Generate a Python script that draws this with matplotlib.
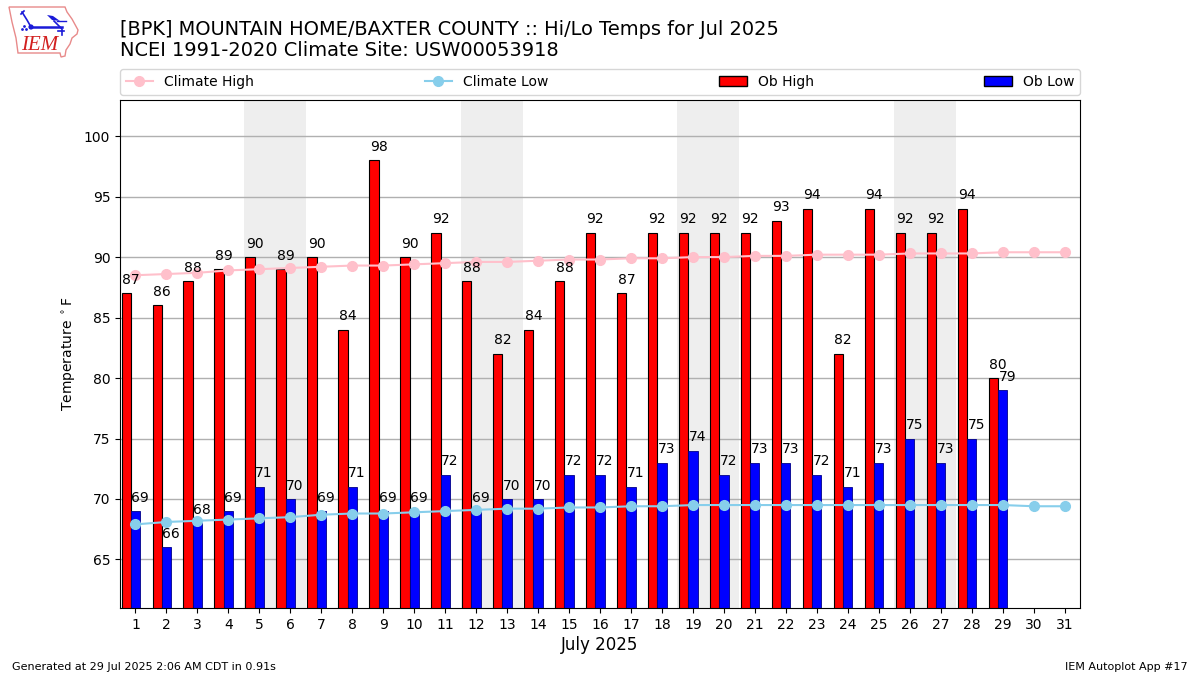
import matplotlib
matplotlib.use("Agg")
import matplotlib.pyplot as plt
from matplotlib.patches import Polygon, Circle, Patch

days = list(range(1, 32))
ob_high = [87, 86, 88, 89, 90, 89, 90, 84, 98, 90, 92, 88, 82, 84, 88, 92, 87, 92, 92, 92, 92, 93, 94, 82, 94, 92, 92, 94, 80]
ob_low = [69, 66, 68, 69, 71, 70, 69, 71, 69, 69, 72, 69, 70, 70, 72, 72, 71, 73, 74, 72, 73, 73, 72, 71, 73, 75, 73, 75, 79]
climate_high = [88.5, 88.6, 88.7, 88.9, 89.0, 89.1, 89.2, 89.3, 89.3, 89.4, 89.5, 89.6, 89.6, 89.7, 89.8, 89.8,
                89.9, 89.9, 90.0, 90.0, 90.1, 90.1, 90.2, 90.2, 90.2, 90.3, 90.3, 90.3, 90.4, 90.4, 90.4]
climate_low = [67.9, 68.1, 68.2, 68.3, 68.4, 68.5, 68.7, 68.8, 68.8, 68.9, 69.0, 69.1, 69.2, 69.2, 69.3, 69.3,
               69.4, 69.4, 69.5, 69.5, 69.5, 69.5, 69.5, 69.5, 69.5, 69.5, 69.5, 69.5, 69.5, 69.4, 69.4]
weekends = [5, 12, 19, 26]
y_ticks = list(range(65, 101, 5))

W = 0.3
fig = plt.figure(figsize=(12, 6.75), dpi=100)
ax = fig.add_axes([120 / 1200, 1 - 607.85 / 675, 960 / 1200, 508 / 675])

for d in weekends:
    ax.axvspan(d - 0.5, d + 1.5, color="#eeeeee", lw=0, zorder=0)
ax.yaxis.grid(True, color="#b0b0b0", lw=1, zorder=1)
ax.set_axisbelow(True)

hx = days[:len(ob_high)]
lx = days[:len(ob_low)]
ax.bar([x - 0.3 for x in hx], ob_high, width=W, color="red", edgecolor="k", lw=0.8, zorder=2)
ax.bar(lx, ob_low, width=W, color="blue", edgecolor="#000088", lw=0.6, zorder=2)
l1, = ax.plot(days, climate_high, color="pink", marker="o", ms=7, lw=1.5, zorder=3)
l2, = ax.plot(days, climate_low, color="skyblue", marker="o", ms=7, lw=1.5, zorder=3)

for x, v in zip(hx, ob_high):
    ax.text(x - W / 2, v + 0.53, str(v), ha="center", va="bottom", fontsize=10, zorder=4)
for x, v in zip(lx, ob_low):
    ax.text(x + W / 2, v + 0.53, str(v), ha="center", va="bottom", fontsize=10, zorder=4)

ax.set_xlim(0.5, 31.5)
ax.set_ylim(61, 103)
ax.set_xticks(days)
ax.set_yticks(y_ticks)
ax.set_xlabel("July 2025", fontsize=12, labelpad=3)
ax.set_ylabel(r"Temperature $^\circ$F", fontsize=10)

handles = [l1, l2, Patch(fc="red", ec="k"), Patch(fc="blue", ec="k")]
ax.legend(handles, ["Climate High", "Climate Low", "Ob High", "Ob Low"], ncol=4, mode="expand", loc="lower left",
          bbox_to_anchor=(0, 1.0105, 1, 0.05), borderaxespad=0, fontsize=10)

fig.text(120 / 1200, 1 - 35 / 675, "[BPK] MOUNTAIN HOME/BAXTER COUNTY :: Hi/Lo Temps for Jul 2025",
         fontsize=13.99, ha="left", va="baseline")
fig.text(120 / 1200, 1 - 56 / 675, "NCEI 1991-2020 Climate Site: USW00053918",
         fontsize=13.99, ha="left", va="baseline")
fig.text(12 / 1200, 1 - 670 / 675, "Generated at 29 Jul 2025 2:06 AM CDT in 0.91s", fontsize=8, ha="left", va="baseline")
fig.text(1188 / 1200, 1 - 670 / 675, "IEM Autoplot App #17", fontsize=8, ha="right", va="baseline")

# IEM logo, drawn in pixel coordinates of the figure
logo = fig.add_axes([0, 1 - 60 / 675, 85 / 1200, 60 / 675])
logo.set_xlim(0, 85)
logo.set_ylim(60, 0)
logo.axis("off")
logo.add_patch(Polygon([(9, 7), (65, 7), (67, 12), (72, 19), (78, 30), (77, 34), (72, 38), (70, 44), (66, 50),
                        (65, 56), (61, 57), (60, 53), (18, 53), (16, 38), (12, 22)],
                       closed=True, fc="white", ec="#e88a8a", lw=1))
blue = "#1a1ad8"
logo.plot([31, 62], [27, 27], color=blue, lw=1.8)
logo.plot([22, 27, 31], [12, 20, 27], color=blue, lw=1.2)
logo.plot([24, 21], [11, 14], color=blue, lw=1.2)
logo.plot([54, 62, 62], [21, 29, 35], color=blue, lw=1.2)
logo.plot([57, 66], [21, 21], color=blue, lw=1)
logo.plot([58, 64], [31, 31], color=blue, lw=1.2)
logo.add_patch(Polygon([(47, 15), (53, 16), (60, 21), (52, 20)], closed=True, fc=blue, ec="none"))
logo.add_patch(Circle((31, 27), 2.6, fc=blue, ec="none"))
logo.scatter([24, 22, 26], [26, 29, 29], s=4, color=blue, lw=0)
logo.text(21, 45, "IEM", color="#d22020", fontsize=15, family="Liberation Serif", style="italic", ha="left", va="center")

fig.savefig("out.png", dpi=100)
